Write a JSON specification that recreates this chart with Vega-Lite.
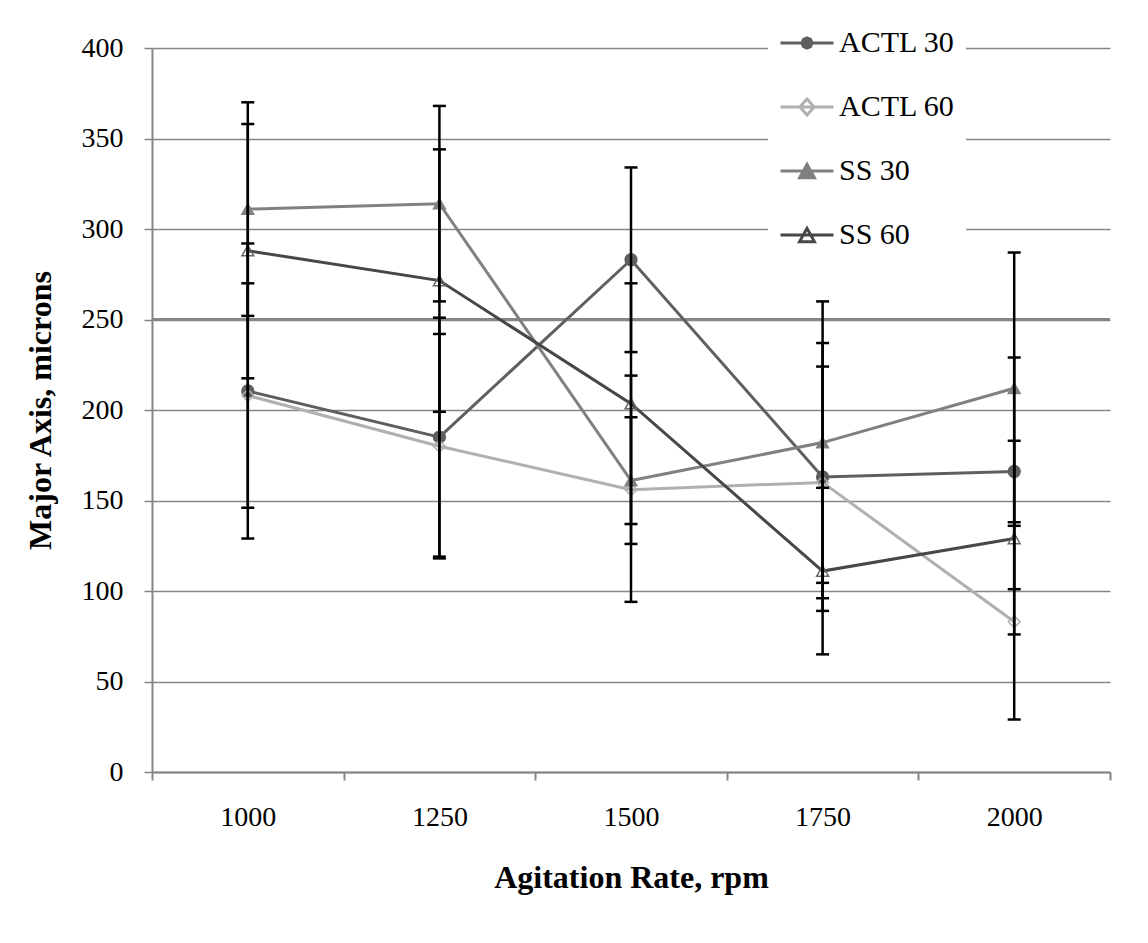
{
  "$schema": "https://vega.github.io/schema/vega-lite/v6.json",
  "autosize": {"type": "none"},
  "padding": {"left": 152, "top": 48, "right": 38, "bottom": 171},
  "width": 958,
  "height": 724,
  "background": "white",
  "data": {
    "values": [
      {"rpm": "1000", "series": "ACTL 30", "mean": 210.5, "lo": 129, "hi": 292},
      {"rpm": "1000", "series": "ACTL 60", "mean": 208, "lo": 146, "hi": 270},
      {"rpm": "1000", "series": "SS 30", "mean": 311, "lo": 252, "hi": 370},
      {"rpm": "1000", "series": "SS 60", "mean": 288, "lo": 217.5, "hi": 358},
      {"rpm": "1250", "series": "ACTL 30", "mean": 185, "lo": 119, "hi": 251},
      {"rpm": "1250", "series": "ACTL 60", "mean": 180, "lo": 118, "hi": 242},
      {"rpm": "1250", "series": "SS 30", "mean": 314, "lo": 260, "hi": 368},
      {"rpm": "1250", "series": "SS 60", "mean": 271.5, "lo": 199, "hi": 344},
      {"rpm": "1500", "series": "ACTL 30", "mean": 283, "lo": 232, "hi": 334},
      {"rpm": "1500", "series": "ACTL 60", "mean": 156, "lo": 94, "hi": 219},
      {"rpm": "1500", "series": "SS 30", "mean": 161, "lo": 126, "hi": 196},
      {"rpm": "1500", "series": "SS 60", "mean": 203.5, "lo": 137, "hi": 270},
      {"rpm": "1750", "series": "ACTL 30", "mean": 163, "lo": 89, "hi": 237},
      {"rpm": "1750", "series": "ACTL 60", "mean": 160, "lo": 96, "hi": 224},
      {"rpm": "1750", "series": "SS 30", "mean": 182, "lo": 104.5, "hi": 260},
      {"rpm": "1750", "series": "SS 60", "mean": 111, "lo": 65, "hi": 157},
      {"rpm": "2000", "series": "ACTL 30", "mean": 166, "lo": 101, "hi": 229},
      {"rpm": "2000", "series": "ACTL 60", "mean": 83, "lo": 29, "hi": 138},
      {"rpm": "2000", "series": "SS 30", "mean": 212, "lo": 136, "hi": 287},
      {"rpm": "2000", "series": "SS 60", "mean": 129, "lo": 76, "hi": 183}
    ]
  },
  "layer": [
    {
      "mark": {"type": "line", "strokeWidth": 3, "opacity": 0},
      "encoding": {
        "x": {
          "field": "rpm", "type": "ordinal", "sort": null,
          "scale": {"paddingInner": 0, "paddingOuter": 0},
          "axis": {
            "title": "Agitation Rate, rpm",
            "labelAngle": 0,
            "tickBand": "extent",
            "domainColor": "#868686", "domainWidth": 2,
            "tickColor": "#868686", "tickWidth": 2, "tickSize": 8,
            "labelFont": "Liberation Serif", "labelFontSize": 28, "labelColor": "black",
            "labelPadding": 23,
            "titleFont": "Liberation Serif", "titleFontSize": 32, "titleFontWeight": "bold", "titleColor": "black",
            "titleBaseline": "alphabetic", "titleY": 115
          }
        },
        "y": {
          "field": "mean", "type": "quantitative",
          "scale": {"domain": [0, 400], "nice": false},
          "axis": {
            "title": "Major Axis, microns",
            "values": [0, 50, 100, 150, 200, 250, 300, 350, 400],
            "grid": true, "gridColor": "#868686", "gridWidth": 1.5,
            "domainColor": "#868686", "domainWidth": 2,
            "tickColor": "#868686", "tickWidth": 1.5, "tickSize": 8,
            "labelFont": "Liberation Serif", "labelFontSize": 28, "labelColor": "black",
            "labelPadding": 21,
            "titleFont": "Liberation Serif", "titleFontSize": 32, "titleFontWeight": "bold", "titleColor": "black",
            "titleBaseline": "middle", "titleX": -112
          }
        },
        "detail": {"field": "series"}
      }
    },
    {
      "mark": {"type": "rule", "stroke": "#868686", "strokeWidth": 2.5},
      "encoding": {"y": {"datum": 250, "type": "quantitative"}}
    },
    {
      "mark": {"type": "line", "strokeWidth": 3},
      "encoding": {
        "x": {"field": "rpm", "type": "ordinal", "sort": null},
        "y": {"field": "mean", "type": "quantitative"},
        "stroke": {
          "field": "series", "type": "nominal",
          "scale": {"domain": ["ACTL 30", "ACTL 60", "SS 30", "SS 60"], "range": ["#5f5f5f", "#b0b0b0", "#808080", "#474747"]},
          "legend": null
        },
        "detail": {"field": "series"}
      }
    },
    {
      "mark": {"type": "point", "strokeWidth": 1.5, "opacity": 1},
      "encoding": {
        "x": {"field": "rpm", "type": "ordinal", "sort": null},
        "y": {"field": "mean", "type": "quantitative"},
        "stroke": {
          "field": "series", "type": "nominal",
          "scale": {"domain": ["ACTL 30", "ACTL 60", "SS 30", "SS 60"], "range": ["#5f5f5f", "#b0b0b0", "#808080", "#666666"]},
          "legend": null
        },
        "fill": {
          "field": "series", "type": "nominal",
          "scale": {"domain": ["ACTL 30", "ACTL 60", "SS 30", "SS 60"], "range": ["#5f5f5f", "transparent", "#808080", "transparent"]},
          "legend": null
        },
        "shape": {
          "field": "series", "type": "nominal",
          "scale": {"domain": ["ACTL 30", "ACTL 60", "SS 30", "SS 60"], "range": ["circle", "diamond", "triangle-up", "triangle-up"]},
          "legend": null
        },
        "size": {"value": 140}
      }
    },
    {
      "mark": {"type": "point", "opacity": 0, "strokeWidth": 3},
      "encoding": {
        "x": {"field": "rpm", "type": "ordinal", "sort": null},
        "y": {"field": "mean", "type": "quantitative"},
        "stroke": {
          "field": "series", "type": "nominal",
          "scale": {"domain": ["ACTL 30", "ACTL 60", "SS 30", "SS 60"], "range": ["#5f5f5f", "#b0b0b0", "#808080", "#474747"]},
          "legend": {
            "title": null, "orient": "none", "legendX": 616, "legendY": -44,
            "fillColor": "white", "padding": 11,
            "symbolSize": 2809, "symbolStrokeWidth": 3, "symbolOpacity": 1,
            "labelFont": "Liberation Serif", "labelFontSize": 30, "labelColor": "black",
            "labelOffset": 4, "rowPadding": 21
          }
        },
        "fill": {
          "field": "series", "type": "nominal",
          "scale": {"domain": ["ACTL 30", "ACTL 60", "SS 30", "SS 60"], "range": ["#5f5f5f", "white", "#808080", "white"]},
          "legend": {
            "title": null, "orient": "none", "legendX": 616, "legendY": -44,
            "fillColor": "white", "padding": 11,
            "symbolSize": 2809, "symbolStrokeWidth": 3, "symbolOpacity": 1,
            "labelFont": "Liberation Serif", "labelFontSize": 30, "labelColor": "black",
            "labelOffset": 4, "rowPadding": 21
          }
        },
        "shape": {
          "field": "series", "type": "nominal",
          "scale": {
            "domain": ["ACTL 30", "ACTL 60", "SS 30", "SS 60"],
            "range": [
              "M-1,0L1,0M0.19,0L0.134,0.134L0,0.19L-0.134,0.134L-0.19,0L-0.134,-0.134L0,-0.19L0.134,-0.134Z",
              "M-1,0L1,0M-0.27,0L0,-0.3L0.27,0L0,0.3Z",
              "M-1,0L1,0M-0.28,0.25L0,-0.25L0.28,0.25Z",
              "M-1,0L1,0M-0.28,0.25L0,-0.25L0.28,0.25Z"
            ]
          },
          "legend": {
            "title": null, "orient": "none", "legendX": 616, "legendY": -44,
            "fillColor": "white", "padding": 11,
            "symbolSize": 2809, "symbolStrokeWidth": 3, "symbolOpacity": 1,
            "labelFont": "Liberation Serif", "labelFontSize": 30, "labelColor": "black",
            "labelOffset": 4, "rowPadding": 21
          }
        }
      }
    },
    {
      "mark": {"type": "rule", "stroke": "black", "strokeWidth": 2.5},
      "encoding": {
        "x": {"field": "rpm", "type": "ordinal", "sort": null},
        "y": {"field": "lo", "type": "quantitative"},
        "y2": {"field": "hi"}
      }
    },
    {
      "mark": {"type": "tick", "color": "black", "size": 13, "thickness": 2.5, "opacity": 1},
      "encoding": {
        "x": {"field": "rpm", "type": "ordinal", "sort": null},
        "y": {"field": "lo", "type": "quantitative"}
      }
    },
    {
      "mark": {"type": "tick", "color": "black", "size": 13, "thickness": 2.5, "opacity": 1},
      "encoding": {
        "x": {"field": "rpm", "type": "ordinal", "sort": null},
        "y": {"field": "hi", "type": "quantitative"}
      }
    }
  ],
  "resolve": {"scale": {"stroke": "independent", "fill": "independent", "shape": "independent"}},
  "config": {
    "view": {"stroke": null}
  }
}
